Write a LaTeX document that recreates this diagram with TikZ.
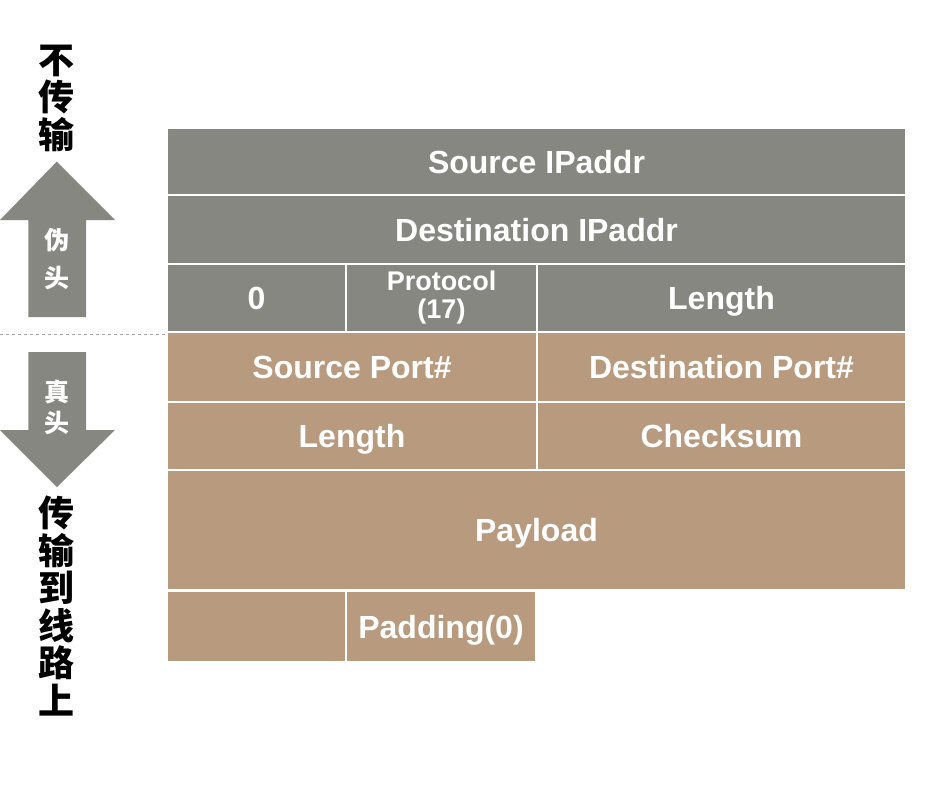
\documentclass[tikz,border=0pt]{standalone}
\usepackage{fontspec}
\setmainfont{Liberation Sans}
\newfontfamily\cjk{Noto Sans CJK SC}
\definecolor{hdrgray}{HTML}{878782}
\definecolor{hdrtan}{HTML}{B89A7E}
\definecolor{dashgray}{HTML}{A8A8A8}
\begin{document}
\begin{tikzpicture}[x=1pt,y=-1pt,
  cell/.style={draw=white,line width=2pt,inner sep=0pt,text=white,
    font=\fontsize{32}{34}\selectfont\bfseries,align=center},
  oneline/.style={text height=29pt,text depth=6pt},
  pseudo/.style={cell,fill=hdrgray},
  real/.style={cell,fill=hdrtan},
  arrowshape/.style={fill=hdrgray},
  arrowtext/.style={text=white,font=\cjk\bfseries\fontsize{25}{38}\selectfont,align=center,inner sep=0pt},
  sidetext/.style={text=black,font=\cjk\bfseries\fontsize{36}{37.5}\selectfont,align=center,inner sep=0pt}]
\useasboundingbox[fill=white] (0,0) rectangle (930,792);
% pseudo header
\node[pseudo,oneline,minimum width=739pt,minimum height=67pt] (sip) at (536.5,161.5) {Source IPaddr};
\node[pseudo,oneline,minimum width=739pt,minimum height=69pt] (dip) at (536.5,229.5) {Destination IPaddr};
\node[pseudo,oneline,minimum width=179pt,minimum height=68pt] (zero) at (256.5,298) {0};
\node[pseudo,minimum width=191pt,minimum height=68pt,font=\fontsize{27}{28}\selectfont\bfseries] (proto) at (441.5,298) {Protocol\\(17)};
\node[pseudo,oneline,minimum width=369pt,minimum height=68pt] (plen) at (721.5,298) {Length};
% real header
\node[real,oneline,minimum width=370pt,minimum height=70pt] (sport) at (352,367) {Source Port\#};
\node[real,oneline,minimum width=369pt,minimum height=70pt] (dport) at (721.5,367) {Destination Port\#};
\node[real,oneline,minimum width=370pt,minimum height=68pt] (ulen) at (352,436) {Length};
\node[real,oneline,minimum width=369pt,minimum height=68pt] (csum) at (721.5,436) {Checksum};
\node[real,oneline,minimum width=739pt,minimum height=120pt] (payload) at (536.5,530) {Payload};
\node[real,minimum width=179pt,minimum height=71pt] (padl) at (256.5,626.5) {};
\node[real,oneline,minimum width=190pt,minimum height=71pt] (pad) at (441,626.5) {Padding(0)};
% dashed separator
\coordinate (dashstart) at (0,334);
\draw[dashgray,dashed,line width=1pt] (dashstart) -- (dashstart -| sport.west);
% up arrow
\fill[arrowshape] (56.7,161.7) -- (115,220) -- (86,220) -- (86,317) -- (28.3,317) -- (28.3,220) -- (0,220) -- cycle;
\node[arrowtext] (weitou) at (57,259) {伪\\头};
% down arrow
\fill[arrowshape] (28.3,352) -- (86,352) -- (86,430) -- (115,430) -- (57,487) -- (0,430) -- (28.3,430) -- cycle;
\node[arrowtext,font=\cjk\bfseries\fontsize{25}{31}\selectfont] (zhentou) at (57,407) {真\\头};
% side texts
\node[sidetext] (notx) at (56,98) {不\\传\\输};
\node[sidetext] (tx) at (56,606) {传\\输\\到\\线\\路\\上};
\end{tikzpicture}
\end{document}
